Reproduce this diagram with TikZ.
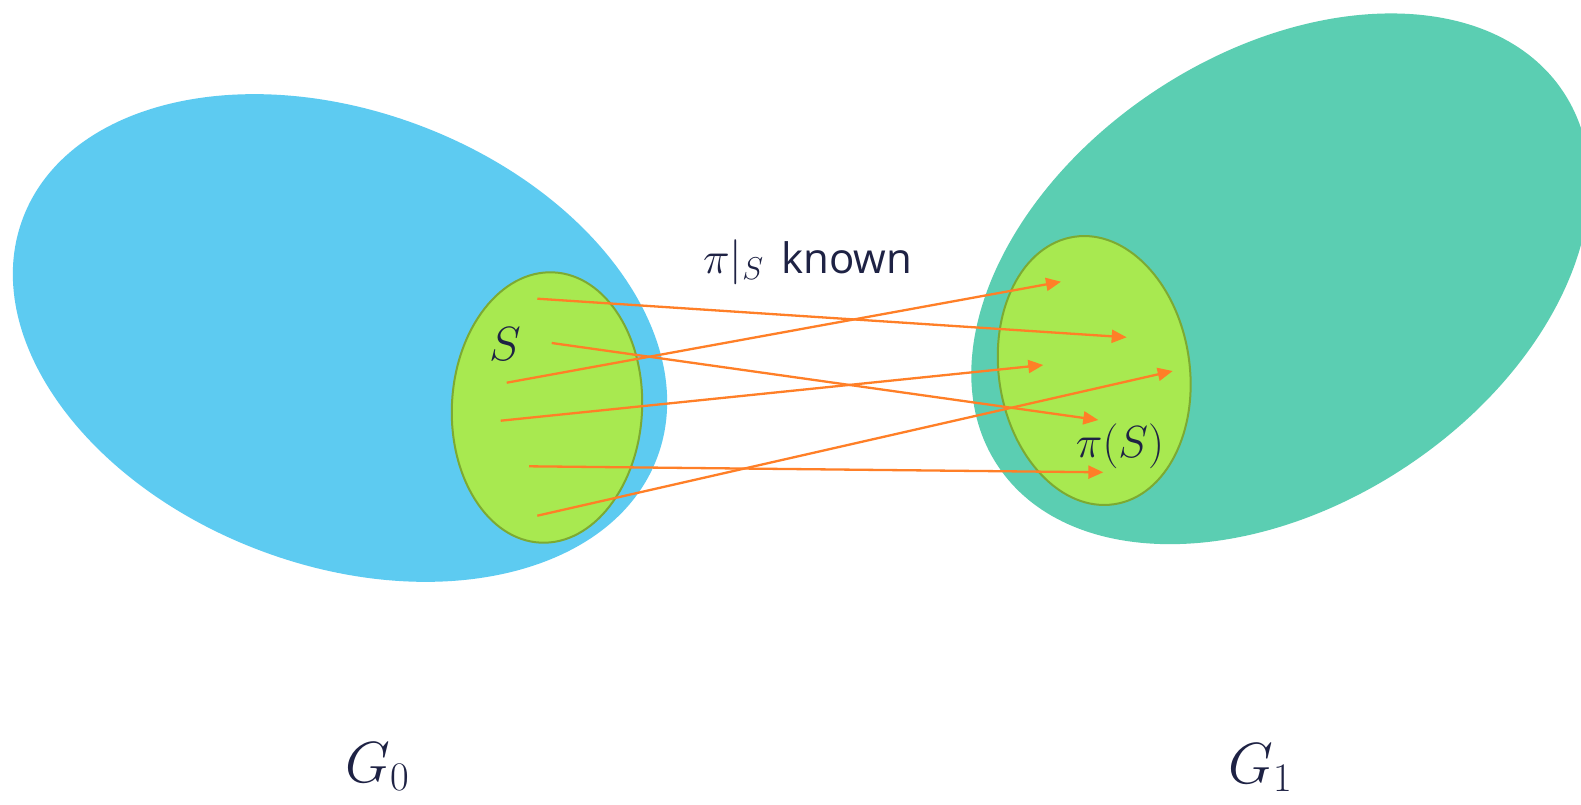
\documentclass[tikz,border=0pt]{standalone}
\usepackage{fix-cm}
\usepackage{fontspec}
\newfontfamily\labelsans{Open Sans}
\usetikzlibrary{arrows.meta}
\definecolor{gzero}{RGB}{93,203,241}
\definecolor{gone}{RGB}{91,206,178}
\definecolor{setfill}{RGB}{168,233,80}
\definecolor{setline}{RGB}{125,170,50}
\definecolor{maparrow}{RGB}{255,127,39}
\definecolor{ink}{RGB}{30,34,68}
\tikzset{
  subset/.style={fill=setfill, draw=setline, line width=2pt},
  maps/.style={draw=maparrow, line width=2.3pt, -{Triangle[length=15pt,width=13pt]}},
  lbl/.style={text=ink, inner sep=0pt}
}
\begin{document}
\begin{tikzpicture}[x=1pt,y=-1pt]
\clip (0,0) rectangle (1581,805);
\fill[white] (0,0) rectangle (1581,805);
% large sets
\fill[gzero, rotate around={-20.7:(340,338)}] (340,338) ellipse [x radius=339, y radius=227];
\fill[gone, rotate around={33.4:(1280.5,278.8)}] (1280.5,278.8) ellipse [x radius=339, y radius=226];
% subsets
\path[subset, rotate around={-2.8:(547,407.5)}] (547,407.5) ellipse [x radius=95.1, y radius=135.3];
\path[subset, rotate around={8.5:(1094.2,370.5)}] (1094.2,370.5) ellipse [x radius=95.4, y radius=135.2];
% arrow endpoints
\coordinate (s1) at (537.3,298.7); \coordinate (t1) at (1126.7,337.3);
\coordinate (s2) at (551.7,343);   \coordinate (t2) at (1098.3,420);
\coordinate (s3) at (506.7,382.7); \coordinate (t3) at (1061,281.7);
\coordinate (s4) at (500.7,420.7); \coordinate (t4) at (1043.3,365);
\coordinate (s5) at (529,466.3);   \coordinate (t5) at (1103.3,472.3);
\coordinate (s6) at (537.3,515.7); \coordinate (t6) at (1172.7,371);
\foreach \i in {1,...,6} { \draw[maps] (s\i) -- (t\i); }
% labels
\node[lbl, font=\fontsize{48}{50}\selectfont] (S) at (505,344) {$S$};
\node[lbl, font=\fontsize{45}{48}\selectfont] (piS) at (1120,446) {$\pi(S)$};
\node[lbl, anchor=base west] (known) at (703,273) {{\fontsize{45}{48}\selectfont$\pi|_S$}\hspace{18pt}{\fontsize{42}{44}\selectfont\labelsans known}};
\node[lbl, anchor=base west, font=\fontsize{58}{60}\selectfont] (G0) at (345,782) {$G_0$};
\node[lbl, anchor=base west, font=\fontsize{58}{60}\selectfont] (G1) at (1228,783) {$G_1$};
\end{tikzpicture}
\end{document}
